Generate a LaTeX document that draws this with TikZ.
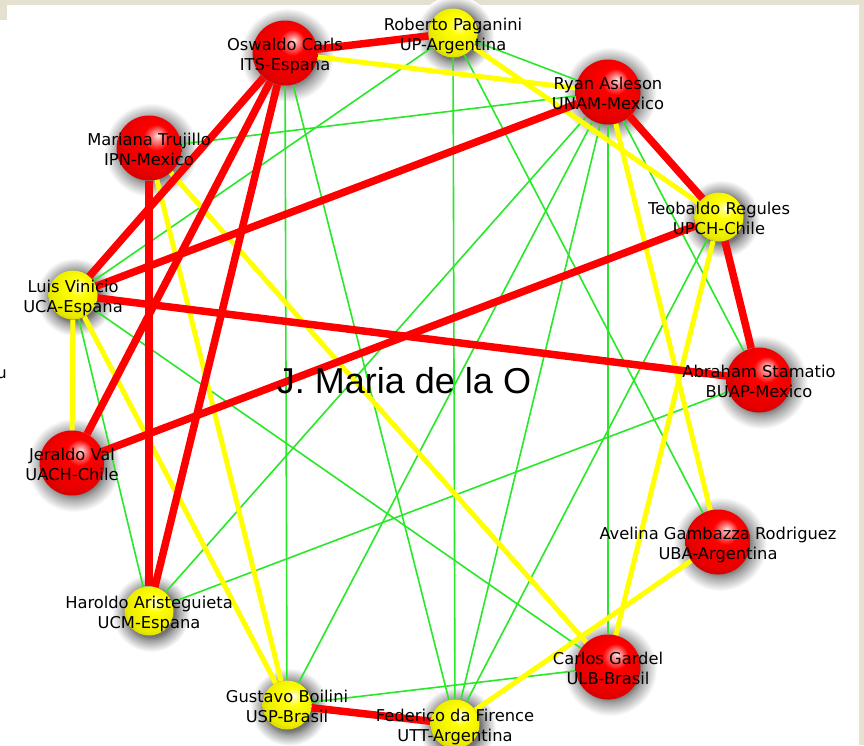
\documentclass[tikz,border=0pt]{standalone}
\usepackage{fontspec}
\setmainfont{DejaVu Sans}
\newfontfamily\titlefont{Liberation Sans}
\usepackage{tikz}
\definecolor{paper}{RGB}{229,224,208}
\definecolor{linkred}{RGB}{255,0,0}
\definecolor{linkyellow}{RGB}{255,255,0}
\definecolor{linkgreen}{RGB}{40,232,40}
\pgfdeclareradialshading{redball}{\pgfqpoint{7bp}{10bp}}{color(0bp)=(red!10!white); color(3bp)=(red!40!white); color(10bp)=(red); color(26bp)=(red!90!black); color(34bp)=(red!75!black); color(50bp)=(red!75!black)}
\pgfdeclareradialshading{yellowball}{\pgfqpoint{7bp}{10bp}}{color(0bp)=(white); color(3bp)=(yellow!40!white); color(10bp)=(yellow); color(26bp)=(yellow!92!black); color(34bp)=(yellow!78!black); color(50bp)=(yellow!78!black)}
\pgfdeclareradialshading{halo}{\pgfpointorigin}{color(0bp)=(black!55); color(15bp)=(black!55); color(18bp)=(black!35); color(25bp)=(white); color(50bp)=(white)}
\pgfdeclarelayer{back}
\pgfdeclarelayer{links}
\pgfsetlayers{back,links,main}
\def\twolines#1#2{#1\strut\\#2\strut}

\begin{document}
\begin{tikzpicture}[x=1pt,y=-1pt,
        redsphere/.style={circle,inner sep=0pt,minimum size=65pt,shade,shading=redball},
        yellowsphere/.style={circle,inner sep=0pt,minimum size=49pt,shade,shading=yellowball},
        redlink/.style={draw=linkred,line width=7.5pt},
        yellowlink/.style={draw=linkyellow,line width=5pt},
        greenlink/.style={draw=linkgreen,line width=1.6pt},
        namelabel/.style={font=\fontsize{16.3}{20}\selectfont,text=black,align=center,anchor=north,inner sep=0pt}]
        \useasboundingbox (0,0) rectangle (864,745);
        \begin{pgfonlayer}{back}
        \fill[paper] (0,0) rectangle (864,745);
        \fill[white] (0,20) -- (7,20) -- (7,5) -- (859,5) -- (859,745) -- (0,745) -- cycle;
        \end{pgfonlayer}
        \foreach \name/\x/\y in {oswaldo/285/53, ryan/608/92, mariana/149/148, abraham/759/380, jeraldo/72/463, avelina/718/542, carlos/608/667} {
        \node[redsphere] (\name) at (\x,\y) {};
        \begin{pgfonlayer}{back}
        \shade[shading=halo] (\x+2,\y+2) circle[radius=47pt];
        \end{pgfonlayer}
        }
        \foreach \name/\x/\y in {roberto/453/33, teobaldo/719/217, luis/73/295, haroldo/149/611, gustavo/287/705, federico/455/724} {
        \node[yellowsphere] (\name) at (\x,\y) {};
        \begin{pgfonlayer}{back}
        \shade[shading=halo] (\x+2,\y+2) circle[radius=39pt];
        \end{pgfonlayer}
        }
        \begin{pgfonlayer}{links}
        \foreach \a/\b in {roberto/luis, roberto/ryan, roberto/federico, roberto/avelina, oswaldo/gustavo, oswaldo/federico, mariana/ryan, ryan/haroldo, ryan/gustavo, ryan/federico, ryan/carlos, ryan/abraham, teobaldo/federico, luis/haroldo, luis/carlos, abraham/haroldo, gustavo/carlos}
        \draw[greenlink] (\a) -- (\b);
        \foreach \a/\b in {oswaldo/ryan, roberto/teobaldo, luis/jeraldo, luis/gustavo, mariana/gustavo, mariana/carlos, ryan/avelina, teobaldo/carlos, avelina/federico}
        \draw[yellowlink] (\a) -- (\b);
        \foreach \a/\b in {oswaldo/roberto, oswaldo/luis, oswaldo/jeraldo, oswaldo/haroldo, ryan/luis, ryan/teobaldo, teobaldo/abraham, teobaldo/jeraldo, luis/abraham, mariana/haroldo, gustavo/federico}
        \draw[redlink] (\a) -- (\b);
        \end{pgfonlayer}
        \foreach \name/\first/\second in {oswaldo/Oswaldo Carls/ITS-Espana, roberto/Roberto Paganini/UP-Argentina, ryan/Ryan Asleson/UNAM-Mexico, mariana/Mariana Trujillo/IPN-Mexico, teobaldo/Teobaldo Regules/UPCH-Chile, luis/Luis Vinicio/UCA-Espana, abraham/Abraham Stamatio/BUAP-Mexico, jeraldo/Jeraldo Val/UACH-Chile, avelina/Avelina Gambazza Rodriguez/UBA-Argentina, haroldo/Haroldo Aristeguieta/UCM-Espana, carlos/Carlos Gardel/ULB-Brasil, gustavo/Gustavo Boilini/USP-Brasil, federico/Federico da Firence/UTT-Argentina}
        \node[namelabel] (\name-text) at ([yshift=17pt]\name.center) {\twolines{\first}{\second}};
        \node[font=\titlefont\fontsize{36}{40}\selectfont,anchor=base,inner sep=0pt] (title) at (404,393) {J. Maria de la O};
        \node[font=\fontsize{16}{20}\selectfont,anchor=base east,inner sep=0pt] (cut) at (7,378) {u};
\end{tikzpicture}
\end{document}
